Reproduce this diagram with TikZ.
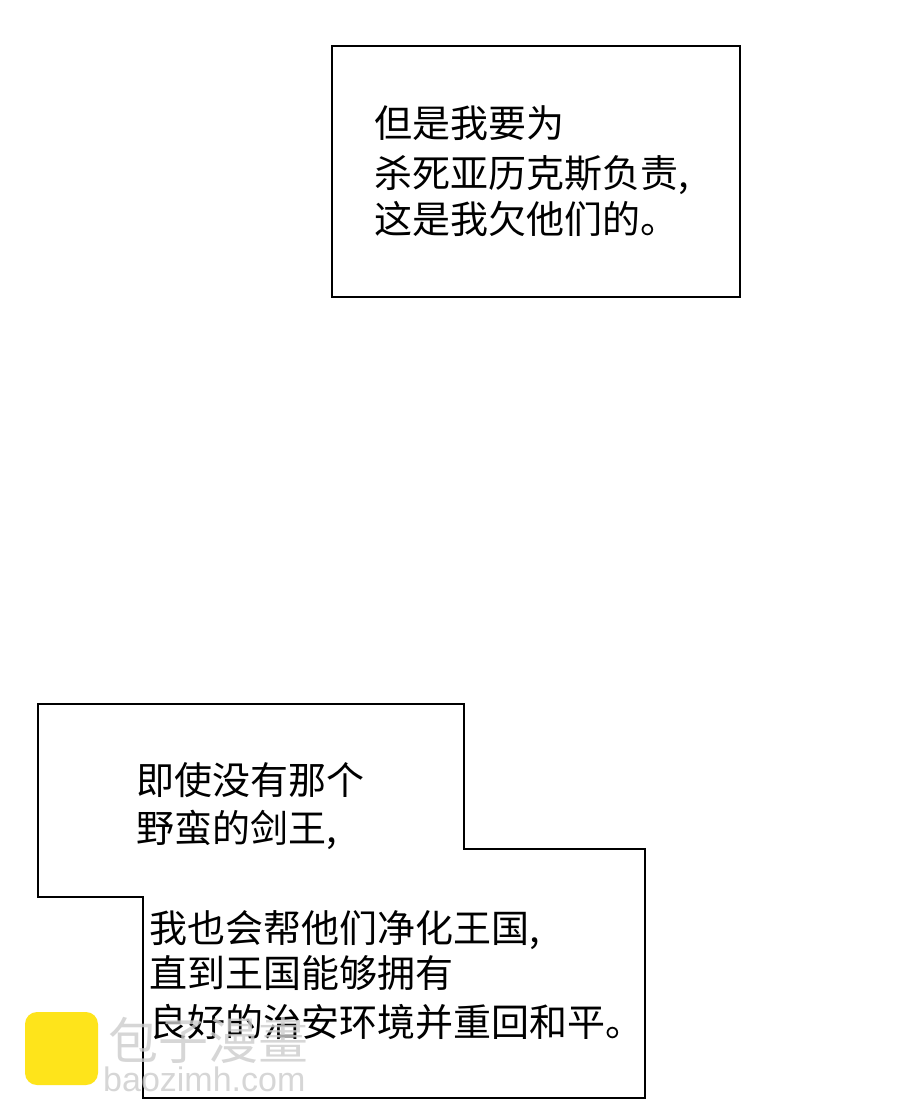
\documentclass[tikz,border=0pt]{standalone}
\usepackage{fontspec}
\newfontfamily\cjk{Noto Sans CJK SC}
\newfontfamily\sans{Liberation Sans}
\begin{document}
\begin{tikzpicture}[x=1pt,y=-1pt,
  bubble/.style={draw=black,line width=2.5pt,fill=white},
  txt/.style={anchor=base west,inner sep=0pt,font=\cjk\fontsize{38}{42}\selectfont}]
\useasboundingbox[fill=white] (0,0) rectangle (900,1118);
\draw[bubble] (332,46) rectangle (740,297);
\node[txt] (a1) at (374,138) {但是我要为};
\node[txt] (a2) at (374,188) {杀死亚历克斯负责,};
\node[txt] (a3) at (374,233) {这是我欠他们的。};
\draw[bubble] (38,704) -- (464,704) -- (464,849) -- (645,849) -- (645,1098) -- (143,1098) -- (143,897) -- (38,897) -- cycle;
\node[txt] (b1) at (136,794) {即使没有那个};
\node[txt] (b2) at (136,842) {野蛮的剑王,};
\node[txt] (c1) at (149,942) {我也会帮他们净化王国,};
\node[txt] (c2) at (149,987) {直到王国能够拥有};
\node[txt] (c3) at (149,1036) {良好的治安环境并重回和平。};
\fill[yellow!85!orange,rounded corners=12pt,opacity=0.9] (25,1012) rectangle (98,1085);
\node[font=\cjk\fontsize{50}{54}\selectfont,text=gray!40,opacity=0.8,anchor=west,inner sep=0pt] (w1) at (108,1040) {包子漫畫};
\node[font=\sans\fontsize{34}{38}\selectfont,text=gray!40,opacity=0.8,anchor=west,inner sep=0pt] (w2) at (103,1079) {baozimh.com};
\end{tikzpicture}
\end{document}
